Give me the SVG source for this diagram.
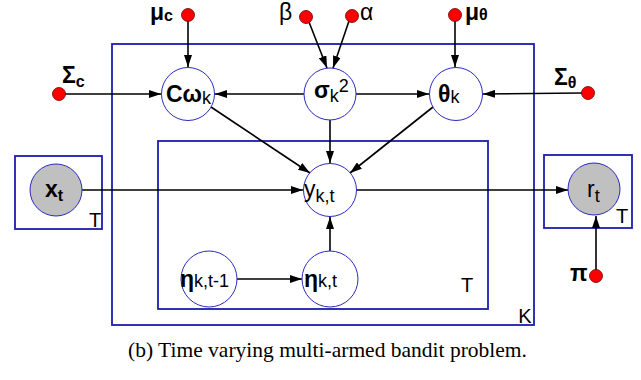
<svg xmlns="http://www.w3.org/2000/svg" width="641" height="380" viewBox="0 0 641 380">
<style>
.plate{fill:none;stroke:#1c1cb0;stroke-width:1.8}
.node{fill:#fff;stroke:#2a2ac0;stroke-width:1}
.obs{fill:#c0c0c0;stroke:#2a2ac0;stroke-width:1}
.dot{fill:#ff0000;stroke:#600;stroke-width:0.8}
.edge{stroke:#000;stroke-width:1.6;fill:none;marker-end:url(#ah)}
text{font-family:"Liberation Sans",Arial,sans-serif;fill:#000}
.lb{font-size:23px;font-weight:bold}
.nl{font-size:23px}
.sub{font-size:18px;font-weight:normal}
.bsub{font-size:16px;font-weight:bold}
.pl{font-size:20px}
.cap{font-family:"Liberation Serif","Times New Roman",serif;font-size:21.5px}
</style>
<defs>
<marker id="ah" viewBox="0 0 12 8" refX="12" refY="4" markerWidth="12" markerHeight="8" markerUnits="userSpaceOnUse" orient="auto">
<path d="M0,0 L12,4 L0,8 z" fill="#000"/>
</marker>
</defs>
<g id="plates">
<rect id="plate-K" class="plate" x="112" y="44" width="422" height="281"/>
<rect id="plate-T-inner" class="plate" x="158" y="141" width="330" height="168"/>
<rect id="plate-x" class="plate" x="15" y="156" width="87" height="73"/>
<rect id="plate-r" class="plate" x="544" y="155" width="88" height="73"/>
<text class="pl" x="95" y="227" text-anchor="middle">T</text>
<text class="pl" x="622" y="223" text-anchor="middle">T</text>
<text class="pl" x="467" y="292" text-anchor="middle">T</text>
<text class="pl" x="525" y="323" text-anchor="middle">K</text>
</g>
<g id="connectors">
<line class="edge" x1="188" y1="21" x2="188" y2="67"/>
<line class="edge" x1="65" y1="94" x2="161" y2="94"/>
<line class="edge" x1="304" y1="94" x2="215" y2="94"/>
<line class="edge" x1="356" y1="94" x2="429" y2="94"/>
<line class="edge" x1="582" y1="93" x2="483" y2="94"/>
<line class="edge" x1="309" y1="22" x2="327" y2="68"/>
<line class="edge" x1="349" y1="21" x2="333" y2="68"/>
<line class="edge" x1="455" y1="21" x2="455" y2="67"/>
<line class="edge" x1="211" y1="107" x2="310" y2="173"/>
<line class="edge" x1="330" y1="120" x2="330" y2="163"/>
<line class="edge" x1="433" y1="107" x2="350" y2="173"/>
<line class="edge" x1="82" y1="190" x2="303" y2="190"/>
<line class="edge" x1="357" y1="190" x2="568" y2="190"/>
<line class="edge" x1="237" y1="279" x2="302" y2="279"/>
<line class="edge" x1="330" y1="251" x2="330" y2="217"/>
<line class="edge" x1="596" y1="270" x2="596" y2="216"/>
</g>
<g id="mu_c"><circle class="dot" cx="188" cy="15" r="6.5"/><text class="lb" x="150" y="20" font-size="21">μ<tspan class="bsub" dy="1">c</tspan></text></g>
<g id="Sigma_c"><circle class="dot" cx="59" cy="94" r="6.5"/><text class="lb" x="62" y="83" font-size="20">Σ<tspan class="bsub" dy="4">c</tspan></text></g>
<g id="beta"><circle class="dot" cx="306" cy="17" r="6.5"/><text class="nl" x="279" y="20" font-size="19">β</text></g>
<g id="alpha"><circle class="dot" cx="352" cy="16" r="6.5"/><text class="nl" x="360" y="20" font-size="18">α</text></g>
<g id="mu_theta"><circle class="dot" cx="455" cy="15" r="6.5"/><text class="lb" x="465" y="20" font-size="21">μ<tspan class="bsub" dy="0">θ</tspan></text></g>
<g id="Sigma_theta"><circle class="dot" cx="588" cy="93" r="6.5"/><text class="lb" x="554" y="85" font-size="20">Σ<tspan class="bsub" dy="3">θ</tspan></text></g>
<g id="pi"><circle class="dot" cx="596" cy="276" r="6.5"/><text class="lb" x="570" y="281">π</text></g>
<g id="C_omega"><circle class="node" cx="188" cy="94" r="26.5"/><text class="lb" x="166" y="102">Cω<tspan class="sub" dy="2">k</tspan></text></g>
<g id="sigma2"><circle class="node" cx="330" cy="94" r="26"/><text class="lb" x="314" y="98">σ<tspan class="sub" dy="4">k</tspan><tspan class="sub" dy="-10">2</tspan></text></g>
<g id="theta"><circle class="node" cx="456" cy="94" r="26.5"/><text class="lb" x="438" y="102">θ<tspan class="sub" dy="1">k</tspan></text></g>
<g id="y"><circle class="node" cx="330" cy="190" r="26.5"/><text class="nl" x="304" y="197">y<tspan class="sub" dy="5">k,t</tspan></text></g>
<g id="eta_prev"><circle class="node" cx="209" cy="279" r="28"/><text class="lb" x="180" y="287">η<tspan class="sub" dy="0">k,t-1</tspan></text></g>
<g id="eta"><circle class="node" cx="330" cy="279" r="28"/><text class="lb" x="304" y="287">η<tspan class="sub" dy="0">k,t</tspan></text></g>
<g id="x"><circle class="obs" cx="56" cy="190" r="26"/><text class="lb" x="45" y="197">x<tspan class="bsub" dy="4">t</tspan></text></g>
<g id="r"><circle class="obs" cx="594" cy="189" r="26"/><text class="nl" x="587" y="197">r<tspan class="sub" dy="5">t</tspan></text></g>
<text class="cap" x="327.5" y="357" text-anchor="middle">(b) Time varying multi-armed bandit problem.</text>
</svg>
